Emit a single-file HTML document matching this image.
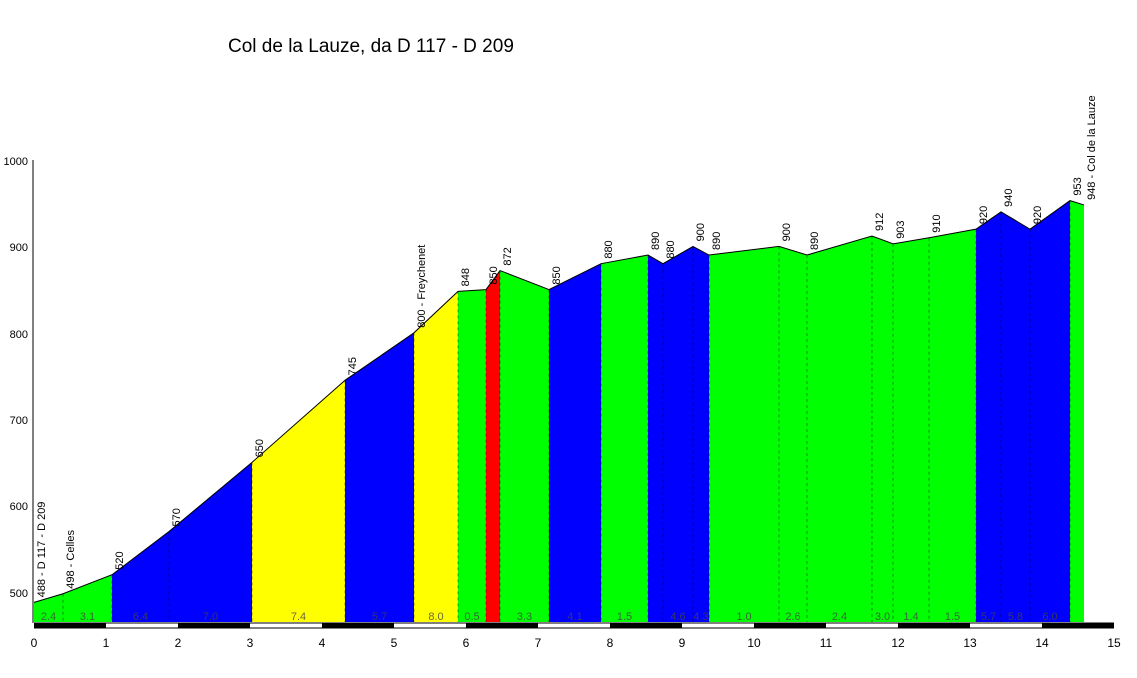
<!DOCTYPE html>
<html><head><style>body{margin:0;background:#fff}</style></head><body>
<svg id="svg" width="1137" height="673" xmlns="http://www.w3.org/2000/svg" font-family="Liberation Sans, sans-serif">
<rect width="1137" height="673" fill="#fff"/>
<text x="228" y="52" font-size="19">Col de la Lauze, da D 117 - D 209</text>
<g id="p"></g>
<line x1="33" y1="160" x2="33" y2="623" stroke="#000"/>
<g font-size="11" text-anchor="end">
<text x="28" y="165">1000</text><text x="28" y="251">900</text><text x="28" y="338">800</text><text x="28" y="424">700</text><text x="28" y="510">600</text><text x="28" y="597">500</text>
</g>
<g font-size="12" text-anchor="middle" id="xl"></g>
</svg>
<script>
var P=[[34,488],[63,498],[112,520],[169,570],[252,650],[345,745],[414,800],[458,848],[486,850],[500,872],[549,850],[601,880],[648,890],[663,880],[693,900],[709,890],[779,900],[807,890],[872,912],[893,903],[929,910],[976,920],[1001,940],[1030,920],[1070,953],[1084,948]];
var C="GGBBYBYGRGBGBBBGGGGGGBBBG";
var col={G:"#00ff00",B:"#0000ff",Y:"#ffff00",R:"#ff0000"};
var lab=["2.4","3.1","6.4","7.0","7.4","5.7","8.0","0.5","","3.3","4.1","1.5","","4.6","4.3","1.0","2.6","2.4","3.0","1.4","1.5","5.7","5.8","6.0",""];
var names=["488 - D 117 - D 209","498 - Celles","520","570","650","745","800 - Freychenet","848","850","872","850","880","890","880","900","890","900","890","912","903","910","920","940","920","953","948 - Col de la Lauze"];
var NS="http://www.w3.org/2000/svg";
function Y(e){return 592-(e-500)*0.864;}
var B=622;
var g=document.getElementById("p");
function el(tag,attrs,parent,text){var n=document.createElementNS(NS,tag);for(var k in attrs)n.setAttribute(k,attrs[k]);if(text!==undefined)n.textContent=text;(parent||g).appendChild(n);return n;}
for(var i=0;i<C.length;i++){var a=P[i][0],e1=P[i][1],b=P[i+1][0],e2=P[i+1][1];
el("polygon",{points:a+","+B+" "+a+","+Y(e1)+" "+b+","+Y(e2)+" "+b+","+B,fill:col[C[i]]});
if(i>0)el("line",{x1:a,y1:Y(e1),x2:a,y2:B,stroke:"#000","stroke-width":"0.7","stroke-dasharray":"3,3",opacity:"0.6"});
if(lab[i])el("text",{x:(a+b)/2,y:620,"font-size":11,"text-anchor":"middle",fill:"#444",opacity:"0.8"},g,lab[i]);}
el("polyline",{points:P.map(function(p){return p[0]+","+Y(p[1]);}).join(" "),fill:"none",stroke:"#000","stroke-width":1});
P.forEach(function(p,i){el("text",{transform:"translate("+(p[0]+11)+","+(Y(p[1])-5)+") rotate(-90)","font-size":11},g,names[i]);});
for(var k=0;k<15;k++)el("rect",{x:34+k*72,y:623,width:72,height:5,fill:k%2?"#fff":"#000"});
el("line",{x1:34,y1:623,x2:1114,y2:623,stroke:"#000"});
el("line",{x1:34,y1:628,x2:1114,y2:628,stroke:"#000"});
var xl=document.getElementById("xl");
for(var k=0;k<=15;k++)el("text",{x:34+k*72,y:647},xl,String(k));
</script>
</body></html>
